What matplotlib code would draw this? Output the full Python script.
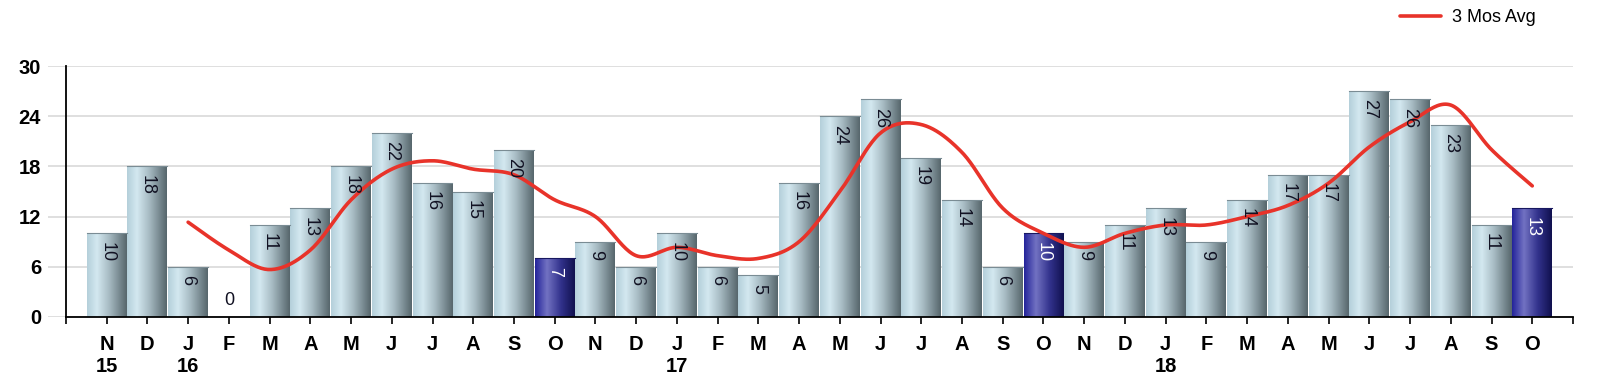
import numpy as np
import matplotlib
matplotlib.use("Agg")
import matplotlib.pyplot as plt
from matplotlib.colors import LinearSegmentedColormap

plt.rcParams['font.family'] = ['Liberation Sans', 'DejaVu Sans']

# monthly counts, Nov 2015 .. Oct 2018
months = ["N", "D", "J", "F", "M", "A", "M", "J", "J", "A", "S", "O",
          "N", "D", "J", "F", "M", "A", "M", "J", "J", "A", "S", "O",
          "N", "D", "J", "F", "M", "A", "M", "J", "J", "A", "S", "O"]
years = ["15", "", "16", "", "", "", "", "", "", "", "", "",
         "", "", "17", "", "", "", "", "", "", "", "", "",
         "", "", "18", "", "", "", "", "", "", "", "", ""]
counts = [10, 18, 6, 0, 11, 13, 18, 22, 16, 15, 20, 7,
          9, 6, 10, 6, 5, 16, 24, 26, 19, 14, 6, 10,
          9, 11, 13, 9, 14, 17, 17, 27, 26, 23, 11, 13]
highlight = [11, 23, 35]  # October bars

# 3 month average, starting at Jan 2016
avg_start = 2
avg_vals = [11.33, 8.0, 5.67, 8.0, 14.0, 17.67, 18.67, 17.67, 17.0, 14.0,
            12.0, 7.33, 8.33, 7.33, 7.0, 9.0, 15.0, 22.0, 23.0, 19.67,
            13.0, 10.0, 8.33, 10.0, 11.0, 11.0, 12.0, 13.33, 16.0, 20.33,
            23.33, 25.33, 20.0, 15.67]

yticks = [0, 6, 12, 18, 24, 30]


def catmull_rom(xs, ys, n=24):
    # smooth curve through the points, like the original chart's spline
    px = np.concatenate([[xs[0]], xs, [xs[-1]]])
    py = np.concatenate([[ys[0]], ys, [ys[-1]]])
    out_x, out_y = [], []
    t = np.linspace(0, 1, n, endpoint=False)
    for i in range(1, len(px) - 2):
        for arr, out in ((px, out_x), (py, out_y)):
            p0, p1, p2, p3 = arr[i - 1], arr[i], arr[i + 1], arr[i + 2]
            out.extend(0.5 * ((2 * p1) + (-p0 + p2) * t
                              + (2 * p0 - 5 * p1 + 4 * p2 - p3) * t ** 2
                              + (-p0 + 3 * p1 - 3 * p2 + p3) * t ** 3))
    out_x.append(xs[-1])
    out_y.append(ys[-1])
    return np.array(out_x), np.array(out_y)


light_cmap = LinearSegmentedColormap.from_list(
    "light", [(0, "#b4cfda"), (0.25, "#d3e8f0"), (0.55, "#a8bcc4"), (1, "#56666c")])
dark_cmap = LinearSegmentedColormap.from_list(
    "dark", [(0, "#23239a"), (0.3, "#7272c2"), (0.65, "#32328c"), (1, "#10104e")])

fig = plt.figure(figsize=(16, 3.83), dpi=100)
ax = fig.add_axes([48 / 1600, 66 / 383, (1573 - 48) / 1600, (317 - 66) / 383])

x = np.arange(len(counts))
bars = ax.bar(x, counts, width=0.98, color="none", edgecolor="none", zorder=2)
grad = np.linspace(0, 1, 256).reshape(1, -1)
for i, b in enumerate(bars):
    if counts[i] == 0:
        continue
    cmap = dark_cmap if i in highlight else light_cmap
    bx, by = b.get_x(), b.get_y()
    im = ax.imshow(grad, cmap=cmap, aspect="auto", zorder=2,
                   extent=(bx, bx + b.get_width(), by, by + b.get_height()))
    im.set_clip_path(b)
    # thin top edge
    ax.plot([bx, bx + b.get_width()], [by + b.get_height()] * 2,
            color="#7a8c94" if i not in highlight else "#181860", lw=0.8, zorder=2.5)

# bar value labels
for i, v in enumerate(counts):
    if v == 0:
        ax.annotate("0", (i, 0), xytext=(0, 6), textcoords="offset points",
                    ha="center", va="bottom", fontsize=13, color="#111122", zorder=4)
        continue
    col = "white" if i in highlight else "#111122"
    ax.annotate(str(v), (i, v), xytext=(0, -6), textcoords="offset points",
                ha="center", va="top", rotation=270, fontsize=13, color=col, zorder=4)

# 3 month average line
ax_x = np.arange(avg_start, avg_start + len(avg_vals))
sx, sy = catmull_rom(ax_x.astype(float), np.array(avg_vals))
ax.plot(sx, sy, color="#e8332a", lw=2.6, zorder=3, label="3 Mos Avg",
        solid_capstyle="round")

ax.set_xlim(-1.44, 36)
ax.set_ylim(0, 30)

# axes styling
for s in ["top", "right", "left", "bottom"]:
    ax.spines[s].set_visible(False)
ax.plot([-1, -1], [0, 30], color="black", lw=1.3, zorder=5, clip_on=False)
ax.plot([-1, 36], [0, 0], color="black", lw=1.3, zorder=5, clip_on=False)

ax.set_yticks(yticks)
ax.set_yticklabels([str(t) for t in yticks], fontsize=14.5, fontweight="bold")
ax.tick_params(axis="y", length=0, pad=5)
ax.yaxis.grid(True, color="#d9d9d9", lw=1.2, zorder=0)
ax.set_axisbelow(True)

ax.set_xticks(x)
ax.set_xticklabels([m + ("\n" + y if y else "") for m, y in zip(months, years)],
                   fontsize=14.5, fontweight="bold", linespacing=1.2, va="top")
ax.set_xticks([-1, 36], minor=True)
ax.tick_params(axis="x", which="both", length=5, width=1.2, color="black",
               direction="out", pad=8)

leg = ax.legend(loc="upper right", bbox_to_anchor=(1545 / 1600, 1.0),
                bbox_transform=fig.transFigure, frameon=False, fontsize=13,
                handlelength=2.3, handletextpad=0.6, borderaxespad=0.1)

fig.savefig("out.png", dpi=100)
